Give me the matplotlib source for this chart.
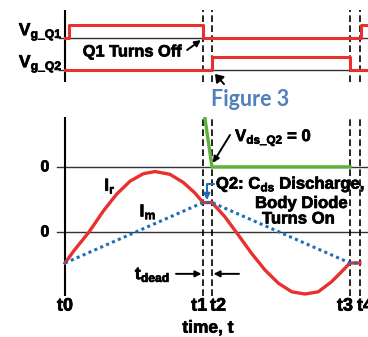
import numpy as np
import matplotlib
matplotlib.use("Agg")
import matplotlib.pyplot as plt
import matplotlib.patheffects as pe

plt.rcParams['font.family'] = ['Liberation Sans', 'DejaVu Sans']
plt.rcParams['font.weight'] = 'bold'
plt.rcParams['mathtext.fontset'] = 'custom'
plt.rcParams['mathtext.rm'] = 'Liberation Sans:bold'
plt.rcParams['mathtext.it'] = 'Liberation Sans:bold'
plt.rcParams['mathtext.bf'] = 'Liberation Sans:bold'

# switching instants
t_marks = {'t0': 0.0, 't1': 4.6, 't2': 4.9, 't3': 9.5, 't4': 9.83}
t_end = 10.1

# gate signals (logic levels, steps-post)
q1_t = [0.0, 0.13, 4.6, 9.87, t_end]
q1_v = [0, 1, 0, 1, 1]
q2_t = [0.0, 4.9, 9.5, t_end]
q2_v = [0, 1, 0, 0]

# resonant current Ir
ir_t = [0.0, 0.3, 0.8, 1.28, 1.72, 2.17, 2.61, 3.0, 3.5, 3.94, 4.33, 4.6,
        4.9, 5.33, 5.78, 6.22, 6.67, 7.11, 7.56, 8.0, 8.44, 8.89, 9.22, 9.5, 9.83]
ir_v = [-1.0, -0.6, 0.0, 0.68, 1.22, 1.64, 1.88, 1.95, 1.86, 1.6, 1.26, 0.95,
        0.95, 0.49, -0.1, -0.69, -1.23, -1.65, -1.93, -2.0, -1.93, -1.6, -1.28, -1.0, -1.0]

# magnetizing current Im
im_t = [0.0, 4.6, 4.9, 9.5, 9.83]
im_v = [-1.0, 0.95, 0.95, -1.0, -1.0]

# drain-source voltage of Q2
vds_t = [4.6, 4.9, 9.5]
vds_v = [2.0, 0.0, 0.0]

RED = '#e8312f'
GREEN = '#5cb338'
BLUE = '#1f6db6'
Q1_OFF = 2.5      # vertical offset of Vg_Q1 trace
V_OFF = 2.1       # vertical offset of the Vds zero line
HEAVY = [pe.withStroke(linewidth=0.5, foreground='black')]

fig = plt.figure(figsize=(3.68, 3.37), dpi=100)
fig.patch.set_facecolor('white')

# ---------- top: gate drive ----------
ax1 = fig.add_axes([0, 255 / 337, 1, 72 / 337])
ax1.set_xlim(-65 / 30, 303 / 30)
ax1.set_ylim(-12 / 12.8, 60 / 12.8)
ax1.axis('off')

ax1.axhline(Q1_OFF, xmin=59 / 368, color='#333333', lw=1.0)
ax1.axhline(0, xmin=59 / 368, color='#333333', lw=1.0)
ax1.axvline(0, color='black', lw=1.5)
ax1.step(q1_t, np.array(q1_v) + Q1_OFF, where='post', color=RED, lw=2.2, zorder=3)
ax1.step(q2_t, q2_v, where='post', color=RED, lw=2.2, zorder=3)

ax1.text(-0.08, Q1_OFF + 0.5, r'V$_{\mathrm{g\_Q1}}$', ha='right', va='center',
         fontsize=12.5, path_effects=HEAVY)
ax1.text(-0.08, 0.5, r'V$_{\mathrm{g\_Q2}}$', ha='right', va='center',
         fontsize=12.5, path_effects=HEAVY)
ax1.text(2.23, 1.41, 'Q1 Turns Off', ha='center', va='center', fontsize=11.8,
         path_effects=HEAVY)
ax1.annotate('', xy=(4.53, 2.34), xytext=(4.07, 1.56),
             arrowprops=dict(arrowstyle='-|>', color='black', lw=1.4,
                             mutation_scale=9, shrinkA=0, shrinkB=0))
ax1.annotate('', xy=(5.0, -0.31), xytext=(5.3, -1.1), annotation_clip=False,
             arrowprops=dict(arrowstyle='-|>,head_length=0.5,head_width=0.35',
                             color='black', lw=1.4, mutation_scale=9,
                             shrinkA=0, shrinkB=0))

# ---------- bottom: currents and voltage ----------
ax2 = fig.add_axes([0, 41 / 337, 1, 179 / 337])
ax2.set_xlim(-65 / 30, 303 / 30)
ax2.set_ylim((232 - 296) / 31, (232 - 117) / 31)
ax2.axis('off')

ax2.axhline(V_OFF, xmin=57 / 368, color='#333333', lw=1.0)
ax2.axhline(0, xmin=57 / 368, color='#333333', lw=1.0)
ax2.axvline(0, color='black', lw=1.5)

for name in ['t1', 't2', 't3', 't4']:
    for ax in (ax1, ax2):
        ax.axvline(t_marks[name], color='black', lw=1.2, ls=(0, (4, 2)))

ax2.plot(vds_t, np.array(vds_v) + V_OFF, color=GREEN, lw=2.4, zorder=3)
ax2.plot(ir_t, ir_v, color=RED, lw=2.4, zorder=3, solid_joinstyle='round')
ax2.plot(im_t, im_v, color=BLUE, lw=2.2, ls=(0, (1, 1.1)), zorder=4)

ax2.text(-0.67, V_OFF, '0', ha='center', va='center', fontsize=11.5, path_effects=HEAVY)
ax2.text(-0.67, 0, '0', ha='center', va='center', fontsize=11.5, path_effects=HEAVY)
ax2.text(1.5, 1.48, r'I$_{\mathrm{r}}$', ha='center', va='center', fontsize=12.5,
         path_effects=HEAVY)
ax2.text(2.77, 0.65, r'I$_{\mathrm{m}}$', ha='center', va='center', fontsize=12.5,
         path_effects=HEAVY)

ax2.text(5.67, 3.05, r'V$_{\mathrm{ds\_Q2}}$ = 0', ha='left', va='center',
         fontsize=12, path_effects=HEAVY)
ax2.annotate('', xy=(4.93, 2.23), xytext=(5.5, 3.13),
             arrowprops=dict(arrowstyle='-|>', color='black', lw=1.4,
                             mutation_scale=9, shrinkA=0, shrinkB=0))

ax2.text(5.03, 1.54, r'Q2: C$_{\mathrm{ds}}$ Discharge,', ha='left', va='center',
         fontsize=12, path_effects=HEAVY)
ax2.text(7.87, 0.92, 'Body Diode', ha='center', va='center', fontsize=12,
         path_effects=HEAVY)
ax2.text(7.77, 0.42, 'Turns On', ha='center', va='center', fontsize=12,
         path_effects=HEAVY)
ax2.annotate('', xy=(4.73, 1.03), xytext=(4.97, 1.55),
             arrowprops=dict(arrowstyle='-|>', color=BLUE, lw=1.5, mutation_scale=9,
                             connectionstyle='angle,angleA=0,angleB=90,rad=0',
                             shrinkA=0, shrinkB=0))

ax2.text(2.33, -1.39, r't$_{\mathrm{dead}}$', ha='left', va='center', fontsize=12.5,
         path_effects=HEAVY)
ax2.annotate('', xy=(t_marks['t1'] - 0.05, -1.35), xytext=(3.7, -1.35),
             arrowprops=dict(arrowstyle='-|>', color='black', lw=1.4,
                             mutation_scale=9, shrinkA=0, shrinkB=0))
ax2.annotate('', xy=(t_marks['t2'] + 0.05, -1.35), xytext=(5.8, -1.35),
             arrowprops=dict(arrowstyle='-|>', color='black', lw=1.4,
                             mutation_scale=9, shrinkA=0, shrinkB=0))

label_shift = {'t0': 0.0, 't1': -0.13, 't2': 0.2, 't3': -0.17, 't4': 0.17}
for name, tv in t_marks.items():
    ax2.text(tv + label_shift[name], -2.39, name, ha='center', va='center',
             fontsize=13, clip_on=False, path_effects=HEAVY)
ax2.text(4.77, -3.1, 'time, t', ha='center', va='center', fontsize=12.5,
         clip_on=False, path_effects=HEAVY)

fig.text(250 / 368, 1 - 99 / 337, 'Figure 3', ha='center', va='center',
         fontsize=15.5, family='Lato', color='#4f81bd', fontweight='bold')

fig.savefig('out.png', dpi=100)
